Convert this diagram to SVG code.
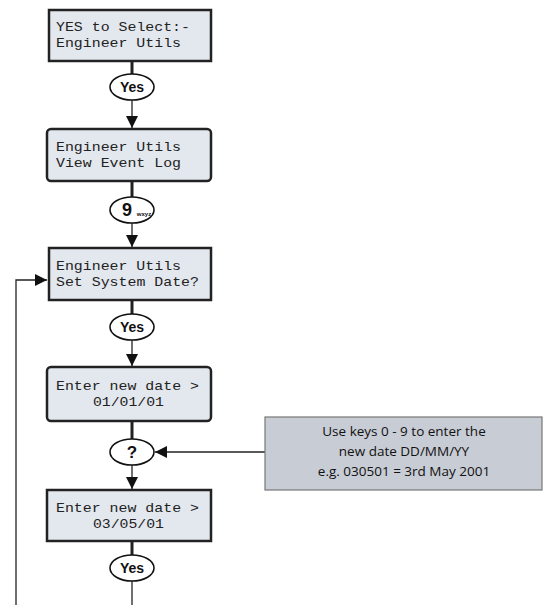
<svg xmlns="http://www.w3.org/2000/svg" width="544" height="605" viewBox="0 0 544 605">
<style>
.lcd{fill:#e3e7ee;stroke:#222;stroke-width:2.5}
.lt{font-family:"Liberation Mono","DejaVu Sans Mono",monospace;font-size:13px;fill:#222}
.key{fill:#fff;stroke:#111;stroke-width:1.6}
.kt{font-family:"Liberation Sans",Arial,sans-serif;font-weight:bold;font-size:14px;fill:#111;text-anchor:middle}
.ln{stroke:#222;stroke-width:1.3;fill:none}
.lnk{stroke:#222;stroke-width:3;fill:none}
.info{fill:#c8ccd5;stroke:#777;stroke-width:1.2}
.it{font-family:"Open Sans","Liberation Sans",sans-serif;font-size:13.5px;fill:#111;text-anchor:middle}
</style>
<defs>
<marker id="ah" viewBox="0 0 12 12" refX="12" refY="6" markerWidth="12" markerHeight="12" markerUnits="userSpaceOnUse" orient="auto">
<path d="M0,0 L12,6 L0,12 Z" fill="#111"/>
</marker>
</defs>
<g id="connectors">
<line class="lnk" x1="132" y1="61" x2="132" y2="74"/>
<line class="ln" x1="132" y1="100" x2="132" y2="128" marker-end="url(#ah)"/>
<line class="lnk" x1="132" y1="181" x2="132" y2="197"/>
<line class="ln" x1="132" y1="223" x2="132" y2="247" marker-end="url(#ah)"/>
<line class="lnk" x1="132" y1="300" x2="132" y2="314"/>
<line class="ln" x1="132" y1="340" x2="132" y2="366" marker-end="url(#ah)"/>
<line class="lnk" x1="132" y1="421" x2="132" y2="439"/>
<line class="ln" x1="132" y1="465" x2="132" y2="489" marker-end="url(#ah)"/>
<line class="lnk" x1="132" y1="541" x2="132" y2="555"/>
<line class="ln" x1="132" y1="581" x2="132" y2="605"/>
<line class="ln" x1="265" y1="452" x2="155" y2="452" marker-end="url(#ah)"/>
<polyline class="ln" points="16,605 16,280 47,280" marker-end="url(#ah)"/>
</g>
<g id="lcd1">
<rect class="lcd" x="49" y="10" width="162" height="51"/>
<text class="lt" x="56" y="31" textLength="134" lengthAdjust="spacingAndGlyphs">YES to Select:-</text>
<text class="lt" x="56" y="47" textLength="125" lengthAdjust="spacingAndGlyphs">Engineer Utils</text>
</g>
<g id="key-yes1">
<ellipse class="key" cx="132" cy="87" rx="22" ry="13"/>
<text class="kt" x="132" y="92">Yes</text>
</g>
<g id="lcd2">
<rect class="lcd" x="47" y="129" width="164" height="52" rx="4"/>
<text class="lt" x="56" y="151" textLength="125" lengthAdjust="spacingAndGlyphs">Engineer Utils</text>
<text class="lt" x="56" y="167" textLength="125" lengthAdjust="spacingAndGlyphs">View Event Log</text>
</g>
<g id="key-9">
<ellipse class="key" cx="132" cy="210" rx="22" ry="13"/>
<text class="kt" x="127" y="216" style="font-size:18px">9</text>
<text x="144" y="216" font-family="Liberation Sans,Arial,sans-serif" font-weight="bold" font-size="6" text-anchor="middle" fill="#111">wxyz</text>
</g>
<g id="lcd3">
<rect class="lcd" x="49" y="248" width="162" height="52"/>
<text class="lt" x="56" y="270" textLength="125" lengthAdjust="spacingAndGlyphs">Engineer Utils</text>
<text class="lt" x="56" y="286" textLength="143" lengthAdjust="spacingAndGlyphs">Set System Date?</text>
</g>
<g id="key-yes2">
<ellipse class="key" cx="132" cy="327" rx="22" ry="13"/>
<text class="kt" x="132" y="332">Yes</text>
</g>
<g id="lcd4">
<rect class="lcd" x="47" y="367" width="164" height="54" rx="4"/>
<text class="lt" x="56" y="390" textLength="143" lengthAdjust="spacingAndGlyphs">Enter new date &gt;</text>
<text class="lt" x="93" y="406" textLength="71" lengthAdjust="spacingAndGlyphs">01/01/01</text>
</g>
<g id="key-q">
<ellipse class="key" cx="132" cy="452" rx="22" ry="13"/>
<text class="kt" x="132" y="458" style="font-size:17px">?</text>
</g>
<g id="info">
<rect class="info" x="265" y="417" width="277" height="73"/>
<text class="it" x="404" y="436">Use keys 0 - 9 to enter the</text>
<text class="it" x="404" y="456">new date DD/MM/YY</text>
<text class="it" x="404" y="476">e.g. 030501 = 3rd May 2001</text>
</g>
<g id="lcd5">
<rect class="lcd" x="47" y="490" width="164" height="51"/>
<text class="lt" x="56" y="512" textLength="143" lengthAdjust="spacingAndGlyphs">Enter new date &gt;</text>
<text class="lt" x="93" y="528" textLength="71" lengthAdjust="spacingAndGlyphs">03/05/01</text>
</g>
<g id="key-yes3">
<ellipse class="key" cx="132" cy="568" rx="22" ry="13"/>
<text class="kt" x="132" y="573">Yes</text>
</g>
</svg>
